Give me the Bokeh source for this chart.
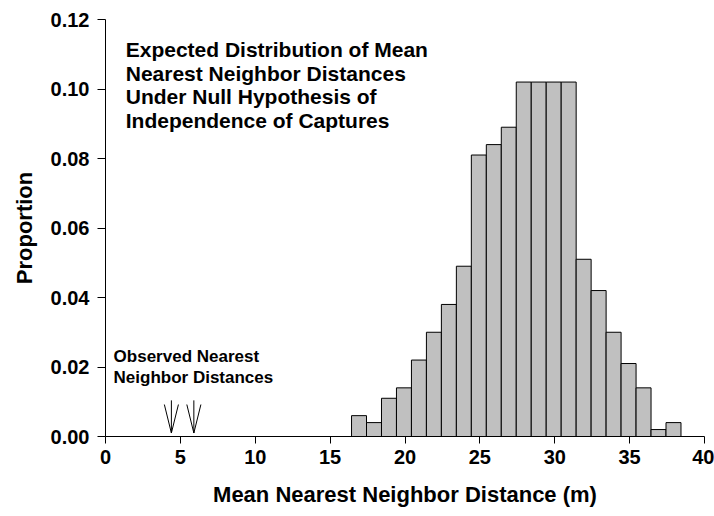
from bokeh.plotting import figure
from bokeh.models import FixedTicker, NumeralTickFormatter, Label, Range1d
from bokeh.embed import file_html
from bokeh.resources import INLINE

# Data
bin_centers = [16.93, 17.93, 18.93, 19.93, 20.93, 21.93, 22.93, 23.93, 24.93, 25.93, 26.93,
               27.93, 28.93, 29.93, 30.93, 31.93, 32.93, 33.93, 34.93, 35.93, 36.93, 37.93]
proportions = [0.006, 0.004, 0.011, 0.014, 0.022, 0.030, 0.038, 0.049, 0.081, 0.084, 0.089,
               0.102, 0.102, 0.102, 0.102, 0.051, 0.042, 0.030, 0.021, 0.014, 0.002, 0.004]
observed = [4.4, 5.9]
x_ticks = [0, 5, 10, 15, 20, 25, 30, 35, 40]
y_ticks = [0.00, 0.02, 0.04, 0.06, 0.08, 0.10, 0.12]

FONT = "Liberation Sans"

p = figure(width=714, height=514, output_backend="svg", toolbar_location=None,
           x_range=Range1d(0, 40), y_range=Range1d(0, 0.12),
           min_border_left=105, min_border_right=10, min_border_top=19, min_border_bottom=78)
p.outline_line_color = None
p.grid.visible = False
p.background_fill_color = "white"
p.border_fill_color = "white"

p.vbar(x=bin_centers, top=proportions, width=1.0, bottom=0,
       fill_color="#c0c0c0", line_color="black", line_width=1)

# observed arrows (open V heads)
shaft_top = 0.0104
arm_top = 0.0092
tip = 0.001
p.segment(x0=observed, y0=[shaft_top] * len(observed), x1=observed, y1=[tip] * len(observed),
          line_color="black", line_width=1)
p.segment(x0=[o - 0.47 for o in observed], y0=[arm_top] * len(observed), x1=observed,
          y1=[tip] * len(observed), line_color="black", line_width=1)
p.segment(x0=[o + 0.47 for o in observed], y0=[arm_top] * len(observed), x1=observed,
          y1=[tip] * len(observed), line_color="black", line_width=1)

for ax in (p.xaxis[0], p.yaxis[0]):
    ax.major_label_text_font = FONT
    ax.major_label_text_font_style = "bold"
    ax.major_label_text_font_size = "20px"
    ax.major_label_text_color = "black"
    ax.axis_label_text_font = FONT
    ax.axis_label_text_font_style = "bold"
    ax.axis_label_text_font_size = "22px"
    ax.axis_label_text_color = "black"
    ax.axis_line_color = "black"
    ax.major_tick_line_color = "black"
    ax.minor_tick_line_color = None
    ax.major_tick_in = 0

p.xaxis.ticker = FixedTicker(ticks=x_ticks)
p.yaxis.ticker = FixedTicker(ticks=y_ticks)
p.yaxis.formatter = NumeralTickFormatter(format="0.00")
p.xaxis.major_tick_out = 7
p.yaxis.major_tick_out = 8
p.xaxis.major_label_standoff = 6
p.yaxis.major_label_standoff = 8
p.xaxis.axis_label = "Mean Nearest Neighbor Distance (m)"
p.yaxis.axis_label = "Proportion"
p.xaxis.axis_label_standoff = 15
p.yaxis.axis_label_standoff = 11

title = Label(x=1.35, y=0.1146, text="Expected Distribution of Mean\nNearest Neighbor Distances\nUnder Null Hypothesis of\nIndependence of Captures",
              text_font=FONT, text_font_style="bold", text_font_size="21px",
              text_baseline="top", text_align="left", text_color="black", text_line_height=1.02)
p.add_layout(title)

obs_label = Label(x=0.54, y=0.0258, text="Observed Nearest\nNeighbor Distances",
                  text_font=FONT, text_font_style="bold", text_font_size="17px",
                  text_baseline="top", text_align="left", text_color="black", text_line_height=1.1)
p.add_layout(obs_label)

open("out.html", "w").write(file_html(p, INLINE))
